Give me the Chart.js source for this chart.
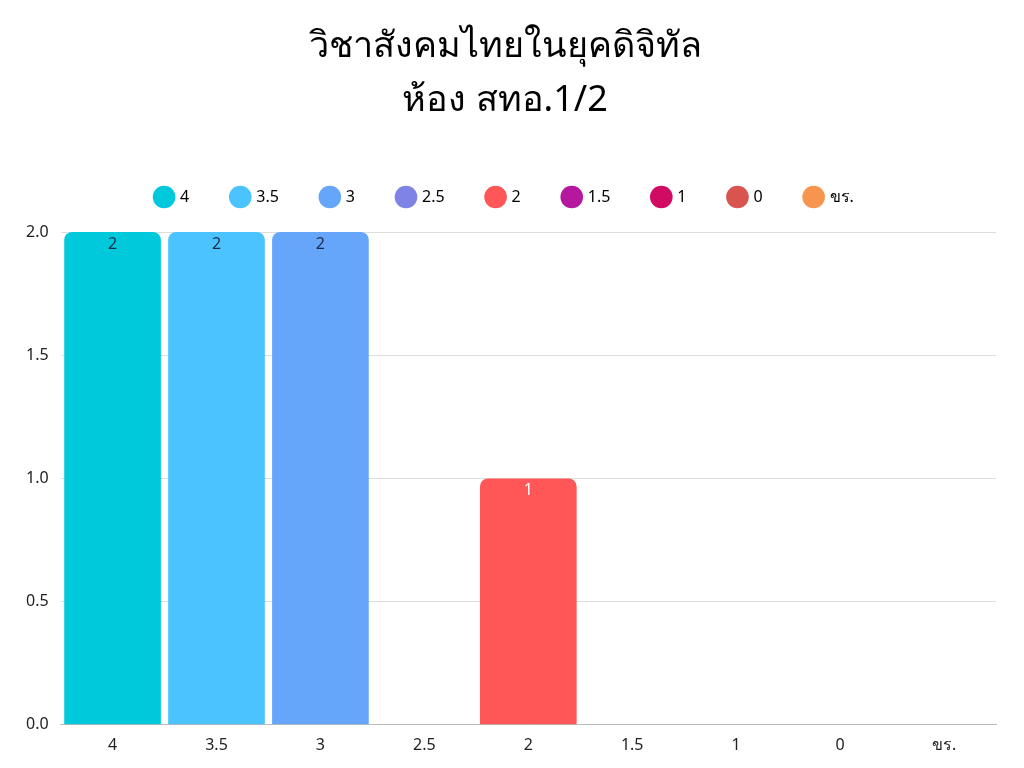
<!DOCTYPE html>
<html>
<head>
<meta charset="utf-8">
<script src="https://cdn.jsdelivr.net/npm/chart.js@4"></script>
<style>
  html, body { margin: 0; padding: 0; background: #fff; }
  #wrap { width: 1024px; height: 768px; }
</style>
</head>
<body>
<div id="wrap"><canvas id="chart"></canvas></div>
<script>
const grades = ["4", "3.5", "3", "2.5", "2", "1.5", "1", "0", "ขร."];
const counts = [2, 2, 2, 0, 1, 0, 0, 0, 0];
const barColors = [
  "#00C9DB", // 4
  "#4AC3FF", // 3.5
  "#66A6FA", // 3
  "#8083E6", // 2.5
  "#FF5757", // 2
  "#B5179E", // 1.5
  "#D10A64", // 1
  "#D9534F", // 0
  "#F7954F", // ขร.
];
const labelColors = ["#1d2b4a", "#1d2b4a", "#1d2b4a", "#1d2b4a", "#ffffff", "#ffffff", "#ffffff", "#ffffff", "#1d2b4a"];
const titleLines = ["วิชาสังคมไทยในยุคดิจิทัล", "ห้อง สทอ.1/2"];

const FONT = "'Noto Sans', 'DejaVu Sans', sans-serif";

// draws the count inside the top of each bar
const valueLabels = {
  id: "valueLabels",
  afterDatasetsDraw(chart) {
    const ctx = chart.ctx;
    const meta = chart.getDatasetMeta(0);
    ctx.save();
    ctx.font = "16px " + FONT;
    ctx.textAlign = "center";
    ctx.textBaseline = "top";
    meta.data.forEach((bar, i) => {
      const v = counts[i];
      if (!v) return;
      ctx.fillStyle = labelColors[i];
      ctx.fillText(String(v), bar.x, bar.y + 4);
    });
    ctx.restore();
  },
};

// a bit more room under the legend
const legendGap = {
  id: "legendGap",
  beforeInit(chart) {
    const origFit = chart.legend.fit;
    chart.legend.fit = function () {
      origFit.bind(chart.legend)();
      this.height += 17;
    };
  },
};

new Chart(document.getElementById("chart"), {
  type: "bar",
  data: {
    labels: grades,
    datasets: [
      {
        data: counts,
        backgroundColor: barColors,
        borderRadius: 8,
        borderSkipped: "bottom",
        categoryPercentage: 0.93,
        barPercentage: 1,
      },
    ],
  },
  options: {
    responsive: true,
    maintainAspectRatio: false,
    animation: false,
    layout: { padding: { left: 14, right: 28, top: 20, bottom: 10 } },
    plugins: {
      title: {
        display: true,
        text: titleLines,
        color: "#000",
        font: { size: 36, family: FONT, weight: "normal", lineHeight: 1.5 },
        padding: { top: 0, bottom: 18 },
      },
      legend: {
        display: true,
        position: "top",
        labels: {
          font: { size: 16, family: FONT },
          color: "#222",
          usePointStyle: true,
          pointStyle: "circle",
          boxWidth: 20,
          boxHeight: 20,
          padding: 43,
          generateLabels: () =>
            grades.map((g, i) => ({
              text: g,
              fillStyle: barColors[i],
              strokeStyle: barColors[i],
              lineWidth: 0,
              pointStyle: "circle",
              index: i,
            })),
        },
        onClick: () => {},
      },
      tooltip: { enabled: false },
    },
    scales: {
      x: {
        grid: { display: false },
        border: { color: "#bbbbbb" },
        ticks: { color: "#222", font: { size: 16, family: FONT }, padding: 3 },
      },
      y: {
        min: 0,
        max: 2,
        grid: { color: "#dddddd", drawTicks: false },
        border: { display: false },
        ticks: {
          stepSize: 0.5,
          color: "#222",
          font: { size: 16, family: FONT },
          padding: 12,
          callback: (v) => Number(v).toFixed(1),
        },
      },
    },
  },
  plugins: [valueLabels, legendGap],
});
</script>
</body>
</html>
